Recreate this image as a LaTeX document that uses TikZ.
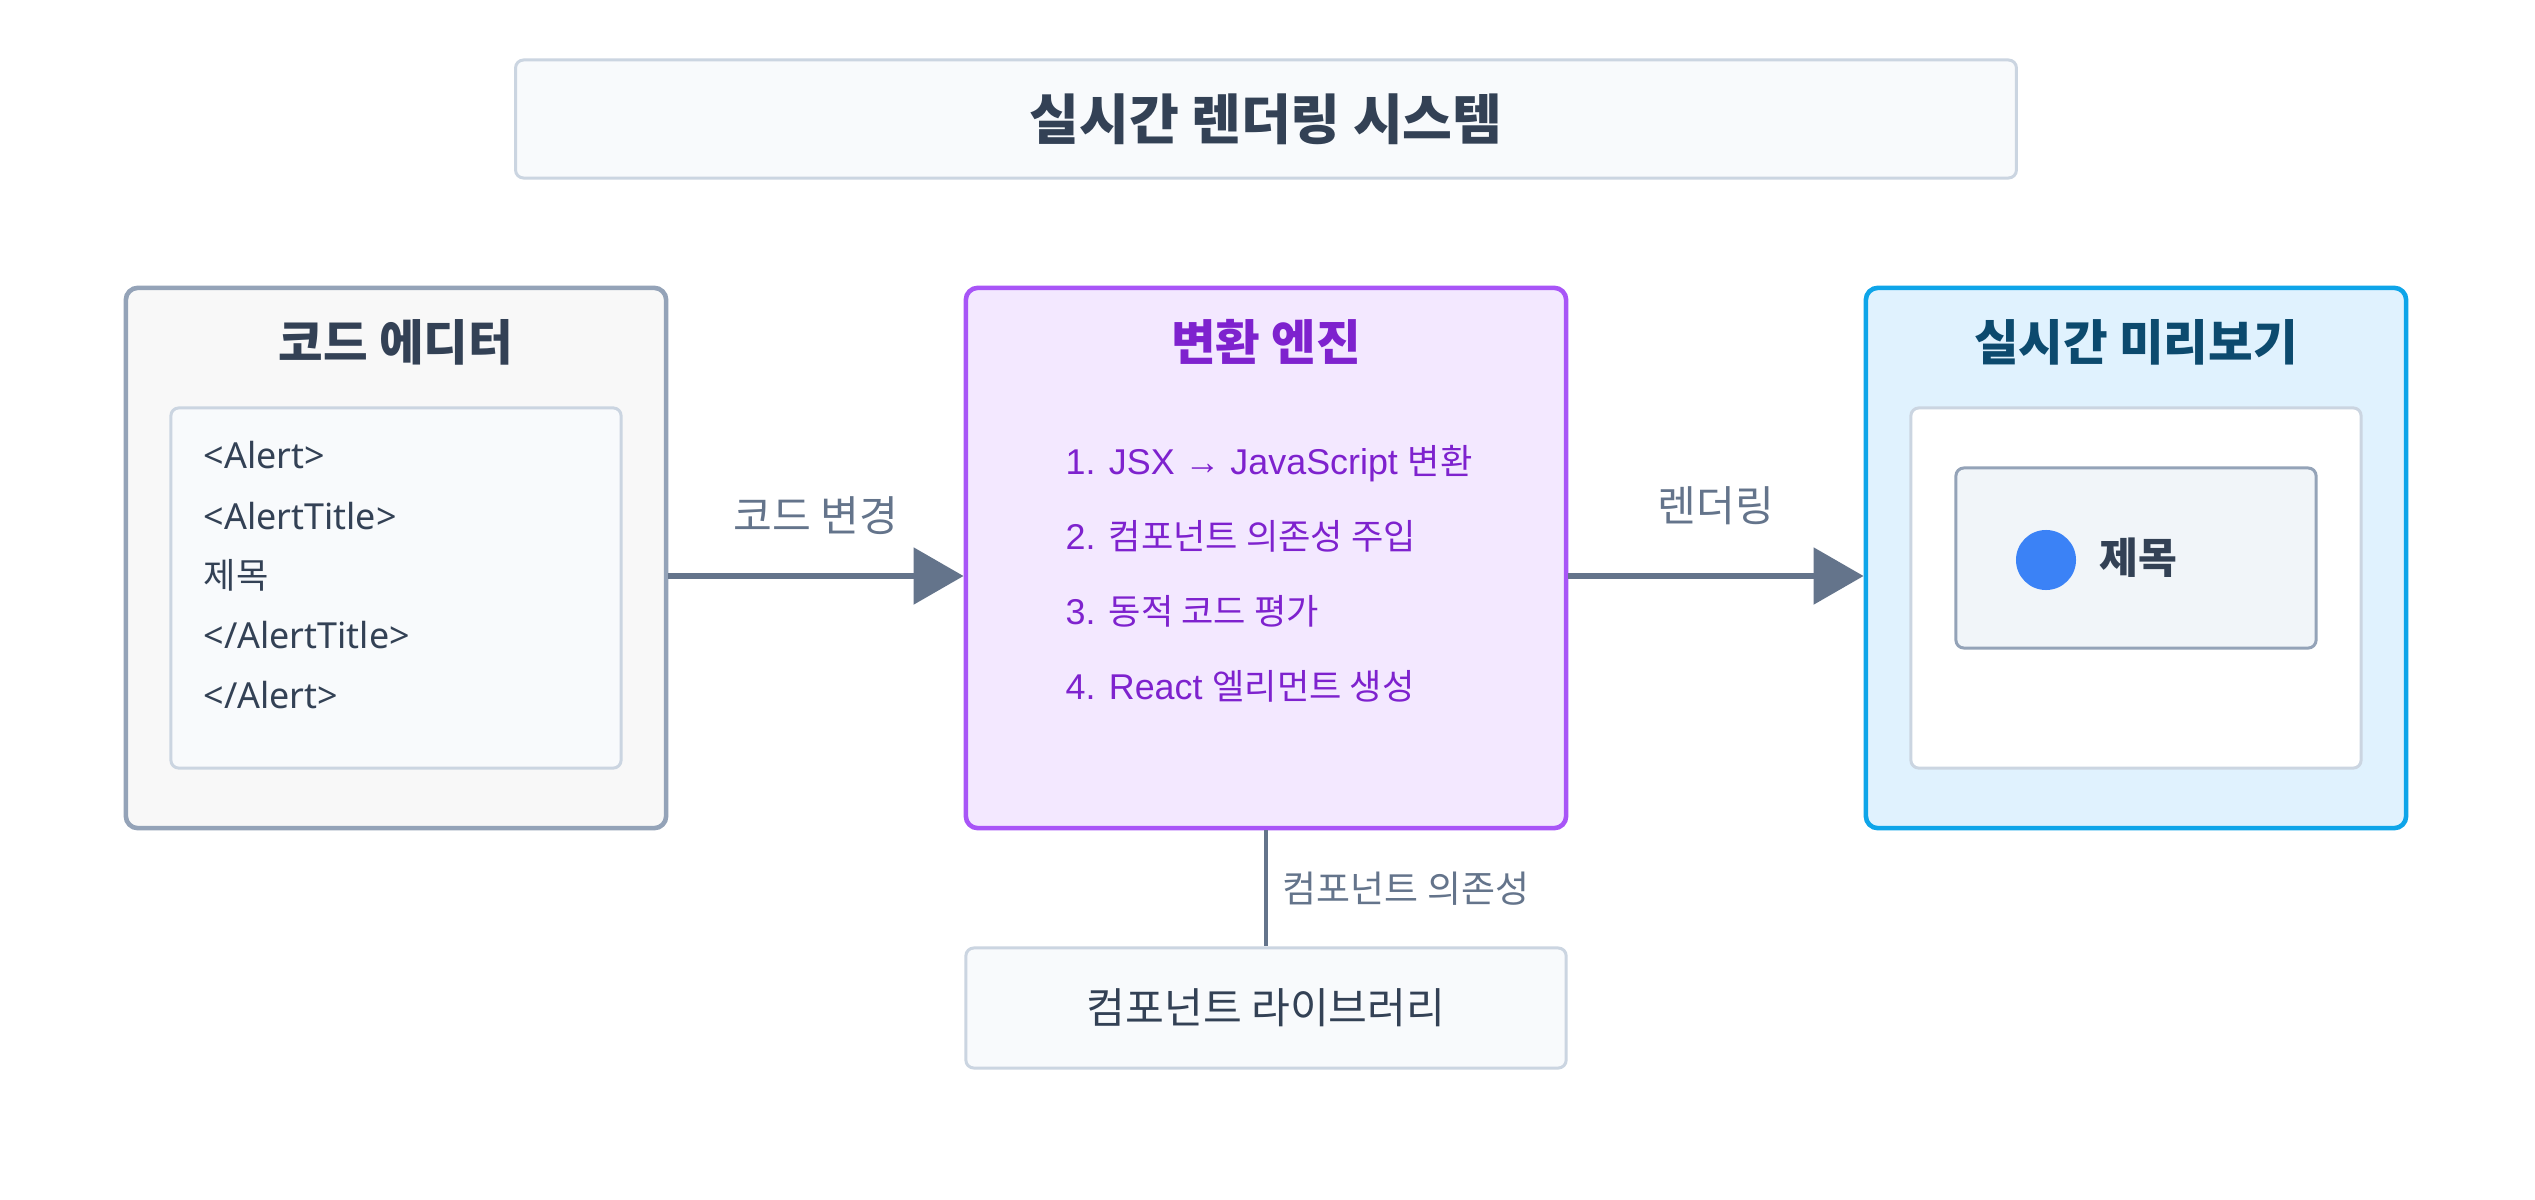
\documentclass[tikz,border=0pt]{standalone}
\usepackage{fontspec}
\setmainfont{Noto Sans CJK KR}
\newfontfamily\latinfont{Liberation Sans}
\newfontfamily\codefont{Noto Sans}
\usetikzlibrary{arrows.meta}

\definecolor{slatedark}{HTML}{334155}
\definecolor{slatemid}{HTML}{64748B}
\definecolor{slateline}{HTML}{94A3B8}
\definecolor{slatelight}{HTML}{CBD5E1}
\definecolor{paper}{HTML}{F8FAFC}
\definecolor{greybox}{HTML}{F8F8F8}
\definecolor{alertfill}{HTML}{F1F5F9}
\definecolor{violetline}{HTML}{A855F7}
\definecolor{violetfill}{HTML}{F3E8FF}
\definecolor{violettext}{HTML}{7E22CE}
\definecolor{skyline}{HTML}{0EA5E9}
\definecolor{skyfill}{HTML}{E0F2FE}
\definecolor{skytext}{HTML}{0C4A6E}
\definecolor{dotblue}{HTML}{3B82F6}

\newcommand{\lat}[1]{{\latinfont\fontsize{10.2}{12}\selectfont #1}}

\begin{document}
\begin{tikzpicture}[x=0.01cm, y=-0.01cm,
  panel/.style={draw, rounded corners=0.12cm, line width=1.3pt, minimum width=5.4cm, minimum height=5.4cm},
  pane/.style={draw=slatelight, rounded corners=0.08cm, line width=0.85pt},
  heading/.style={font=\fontsize{13.8}{16}\bfseries\selectfont},
  codeline/.style={anchor=base west, inner sep=0pt, text=slatedark, font=\codefont\fontsize{10.2}{12}\selectfont},
  stepline/.style={anchor=base west, inner sep=0pt, text=violettext, font=\fontsize{10}{12}\selectfont},
  flow/.style={draw=slatemid, line width=1.6pt, -{Triangle[length=0.5cm, width=0.56cm]}},
  link/.style={draw=slatemid, line width=1.1pt},
  flowlabel/.style={text=slatemid, font=\fontsize{12}{14}\selectfont}]
\fill[white] (0,0) rectangle (2535,1200);

% title bar
\node[pane, fill=paper, minimum width=15cm, minimum height=1.18cm, text=slatedark,
  font=\fontsize{15.4}{18}\bfseries\selectfont] (banner) at (1266,119) {실시간 렌더링 시스템};

% three stages
\node[panel, draw=slateline, fill=greybox] (editor) at (396,558) {};
\node[panel, draw=violetline, fill=violetfill, minimum width=6cm] (engine) at (1266,558) {};
\node[panel, draw=skyline, fill=skyfill] (preview) at (2136,558) {};

\node[heading, text=slatedark] (editortitle) at (396,342) {코드 에디터};
\node[heading, text=violettext] (enginetitle) at (1266,342) {변환 엔진};
\node[heading, text=skytext] (previewtitle) at (2136,342) {실시간 미리보기};

% editor contents
\node[pane, fill=paper, minimum width=4.5cm, minimum height=3.6cm] (editorpane) at (396,588) {};
\node[codeline] (tagopen) at (203,468) {<Alert>};
\node[codeline] (titleopen) at (203,529) {<AlertTitle>};
\node[codeline, font=\fontsize{10}{12}\selectfont] (titletext) at (203,588) {제목};
\node[codeline] (titleclose) at (203,648) {</AlertTitle>};
\node[codeline] (tagclose) at (203,708) {</Alert>};

% engine steps
\node[stepline] (stepone) at (1065,474) {\lat{1. JSX → JavaScript }변환};
\node[stepline] (steptwo) at (1065,549) {\lat{2. }컴포넌트 의존성 주입};
\node[stepline] (stepthree) at (1065,624) {\lat{3. }동적 코드 평가};
\node[stepline] (stepfour) at (1065,699) {\lat{4. React }엘리먼트 생성};

% preview contents
\node[pane, fill=white, minimum width=4.5cm, minimum height=3.6cm] (previewpane) at (2136,588) {};
\node[pane, draw=slateline, fill=alertfill, minimum width=3.6cm, minimum height=1.8cm] (alertbox) at (2136,558) {};
\node[circle, fill=dotblue, minimum size=0.6cm, inner sep=0pt] (dot) at (2046,560) {};
\node[anchor=west, inner sep=0pt, text=slatedark, font=\fontsize{12}{14}\bfseries\selectfont] (alerttitle) at (2099,558) {제목};

% library
\node[pane, fill=paper, minimum width=6cm, minimum height=1.2cm, text=slatedark,
  font=\fontsize{12}{14}\selectfont] (library) at (1266,1008) {컴포넌트 라이브러리};

% connectors
\draw[flow] ([yshift=-0.18cm]editor.east) -- node[flowlabel, yshift=0.6cm] (changelabel) {코드 변경} ([yshift=-0.18cm]engine.west);
\draw[flow] ([yshift=-0.18cm]engine.east) -- node[flowlabel, yshift=0.7cm] (renderlabel) {렌더링} ([yshift=-0.18cm]preview.west);
\draw[link] (engine) -- node[flowlabel, right=0.15cm, inner sep=0pt, font=\fontsize{10.5}{13}\selectfont] (deplabel) {컴포넌트 의존성} (library);
\end{tikzpicture}
\end{document}
